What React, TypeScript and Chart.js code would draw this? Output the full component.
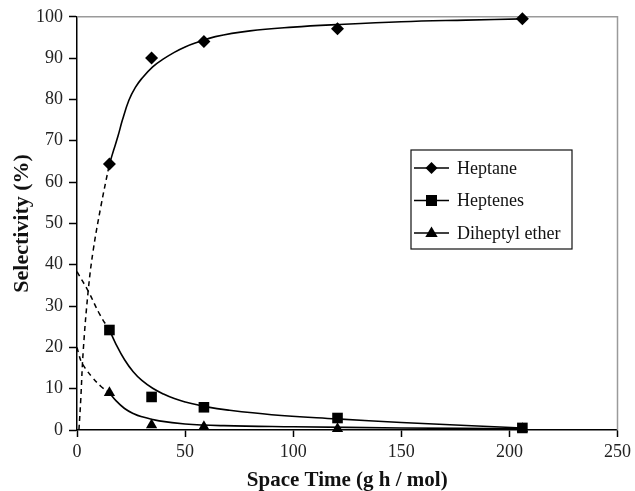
import React, { useEffect, useRef } from "react";
import { Chart, registerables } from "chart.js";

Chart.register(...registerables);

// Measured points
const spaceTime = [15, 34.5, 58.7, 120.5, 206];
const heptane = [64.4, 90, 94, 97.1, 99.5];
const heptenes = [24.2, 8, 5.5, 2.9, 0.5];
const ether = [9, 1.2, 0.8, 0.3, 0.3];

// Fitted (solid) curves
const heptaneCurveX = [15, 17, 19, 21, 24, 27, 30, 35, 40, 45, 50, 55, 64, 80, 100, 120, 150, 180, 206];
const heptaneCurveY = [64.4, 67.8, 71.2, 75, 79.8, 82.9, 85.1, 87.9, 89.8, 91.4, 92.7, 93.7, 95.2, 96.6, 97.5, 98.1, 98.8, 99.2, 99.5];
const heptenesCurveX = [15, 18, 22, 26, 30, 35, 40, 45, 50, 60, 70, 90, 120, 150, 180, 206];
const heptenesCurveY = [24.2, 20.8, 17, 14.1, 12, 10.1, 8.7, 7.6, 6.8, 5.6, 4.8, 3.7, 2.7, 1.8, 1.1, 0.5];
const etherCurveX = [15, 18, 22, 26, 30, 38, 50, 68, 100, 150, 206];
const etherCurveY = [9, 7.1, 5.2, 4.0, 3.2, 2.2, 1.45, 1.05, 0.8, 0.5, 0.3];

// Extrapolated (dashed) curves
const heptaneDashX = [0.9, 1.7, 2.9, 5.2, 7.5, 11, 15];
const heptaneDashY = [0, 7, 19.3, 33.8, 43.5, 54, 64.4];
const heptenesDashX = [0, 5.2, 10.6, 15];
const heptenesDashY = [38.3, 33.6, 27.9, 24.2];
const etherDashX = [0, 0.8, 2, 4, 7, 11, 15];
const etherDashY = [20, 18.4, 16.5, 14.8, 12.8, 10.6, 9];

const seriesNames = ["Heptane", "Heptenes", "Diheptyl ether"];
const seriesStyles = ["rectRot", "rect", "triangle"];

const xTicksMax = 250;
const yTicksMax = 100;

const zip = (xs: number[], ys: number[]) => xs.map((x, i) => ({ x, y: ys[i] }));

const SERIF = "'Liberation Serif', 'Times New Roman', serif";

function drawMarker(ctx: CanvasRenderingContext2D, style: string, x: number, y: number) {
  ctx.beginPath();
  if (style === "rectRot") {
    const r = 6;
    ctx.moveTo(x, y - r);
    ctx.lineTo(x + r, y);
    ctx.lineTo(x, y + r);
    ctx.lineTo(x - r, y);
  } else if (style === "rect") {
    const h = 5.5;
    ctx.rect(x - h, y - h, 2 * h, 2 * h);
  } else {
    const r = 6.5;
    ctx.moveTo(x, y - r);
    ctx.lineTo(x + r * 0.95, y + r * 0.6);
    ctx.lineTo(x - r * 0.95, y + r * 0.6);
  }
  ctx.closePath();
  ctx.fill();
}

const framePlugin = {
  id: "frame",
  beforeDatasetsDraw(chart: any) {
    const { ctx, chartArea } = chart;
    ctx.save();
    ctx.strokeStyle = "#9a9a9a";
    ctx.lineWidth = 1.5;
    ctx.beginPath();
    ctx.moveTo(chartArea.left, chartArea.top);
    ctx.lineTo(chartArea.right, chartArea.top);
    ctx.lineTo(chartArea.right, chartArea.bottom);
    ctx.stroke();
    ctx.restore();
  },
};

const legendPlugin = {
  id: "boxLegend",
  afterDraw(chart: any) {
    const { ctx } = chart;
    const left = 411;
    const top = 150;
    const w = 161;
    const h = 99;
    ctx.save();
    ctx.fillStyle = "#fff";
    ctx.fillRect(left, top, w, h);
    ctx.strokeStyle = "#111";
    ctx.lineWidth = 1.2;
    ctx.strokeRect(left, top, w, h);
    ctx.font = `18px ${SERIF}`;
    ctx.textBaseline = "middle";
    seriesNames.forEach((name, i) => {
      const y = top + 18 + i * 32.5;
      ctx.strokeStyle = "#000";
      ctx.lineWidth = 1.5;
      ctx.beginPath();
      ctx.moveTo(left + 3, y);
      ctx.lineTo(left + 38, y);
      ctx.stroke();
      ctx.fillStyle = "#000";
      drawMarker(ctx, seriesStyles[i], left + 20.5, y);
      ctx.fillStyle = "#111";
      ctx.fillText(name, left + 46, y + 1);
    });
    ctx.restore();
  },
};

export default function App() {
  const ref = useRef<HTMLCanvasElement | null>(null);

  useEffect(() => {
    document.body.style.margin = "0";
    const canvas = ref.current;
    if (!canvas) return;

    const curve = (data: any[], dashed: boolean) => ({
      data,
      borderColor: "#000",
      borderWidth: dashed ? 1.5 : 1.6,
      borderDash: dashed ? [5, 4] : [],
      pointRadius: 0,
      showLine: true,
      tension: 0.4,
      fill: false,
      clip: false,
    });

    const markers = (ys: number[], style: string, radius: number) => ({
      data: zip(spaceTime, ys),
      showLine: false,
      pointStyle: style,
      pointRadius: radius,
      pointBackgroundColor: "#000",
      pointBorderColor: "#000",
      pointBorderWidth: 0,
      clip: false,
    });

    const chart = new Chart(canvas, {
      type: "line",
      data: {
        datasets: [
          curve(zip(heptaneCurveX, heptaneCurveY), false),
          curve(zip(heptenesCurveX, heptenesCurveY), false),
          curve(zip(etherCurveX, etherCurveY), false),
          curve(zip(heptaneDashX, heptaneDashY), true),
          curve(zip(heptenesDashX, heptenesDashY), true),
          curve(zip(etherDashX, etherDashY), true),
          markers(heptane, seriesStyles[0], 6.5),
          markers(heptenes, seriesStyles[1], 7.5),
          markers(ether, seriesStyles[2], 6.5),
        ] as any,
      },
      options: {
        animation: false,
        responsive: false,
        maintainAspectRatio: false,
        layout: { padding: { left: 0, top: 16, right: 17, bottom: 0 } },
        plugins: {
          legend: { display: false },
          tooltip: { enabled: false },
        },
        scales: {
          x: {
            type: "linear",
            min: 0,
            max: xTicksMax,
            afterFit: (s: any) => {
              s.height = 61;
            },
            ticks: {
              stepSize: 50,
              color: "#222",
              font: { family: SERIF, size: 18 },
              padding: 4,
              maxRotation: 0,
            },
            grid: {
              display: true,
              drawOnChartArea: false,
              drawTicks: true,
              tickLength: 7,
              tickWidth: 1.5,
              tickColor: "#000",
            },
            border: { display: true, color: "#000", width: 1.5 },
            title: {
              display: true,
              text: "Space Time (g h / mol)",
              color: "#111",
              font: { family: SERIF, size: 21, weight: "bold", lineHeight: 1 },
              padding: { top: 0, bottom: 0 },
            },
          },
          y: {
            type: "linear",
            min: 0,
            max: yTicksMax,
            afterFit: (s: any) => {
              s.width = 77;
            },
            ticks: {
              stepSize: 10,
              color: "#222",
              font: { family: SERIF, size: 18 },
              padding: 6,
            },
            grid: {
              display: true,
              drawOnChartArea: false,
              drawTicks: true,
              tickLength: 8,
              tickWidth: 1.5,
              tickColor: "#000",
            },
            border: { display: true, color: "#000", width: 1.5 },
            title: {
              display: true,
              text: "Selectivity (%)",
              color: "#111",
              font: { family: SERIF, size: 22, weight: "bold", lineHeight: 1 },
              padding: { top: 11, bottom: 0 },
            },
          },
        },
      } as any,
      plugins: [framePlugin, legendPlugin],
    });

    return () => chart.destroy();
  }, []);

  return (
    <div style={{ position: "absolute", left: 0, top: 0, width: 635, height: 491, background: "#fff" }}>
      <canvas ref={ref} width={635} height={491} style={{ width: 635, height: 491, display: "block" }} />
    </div>
  );
}
